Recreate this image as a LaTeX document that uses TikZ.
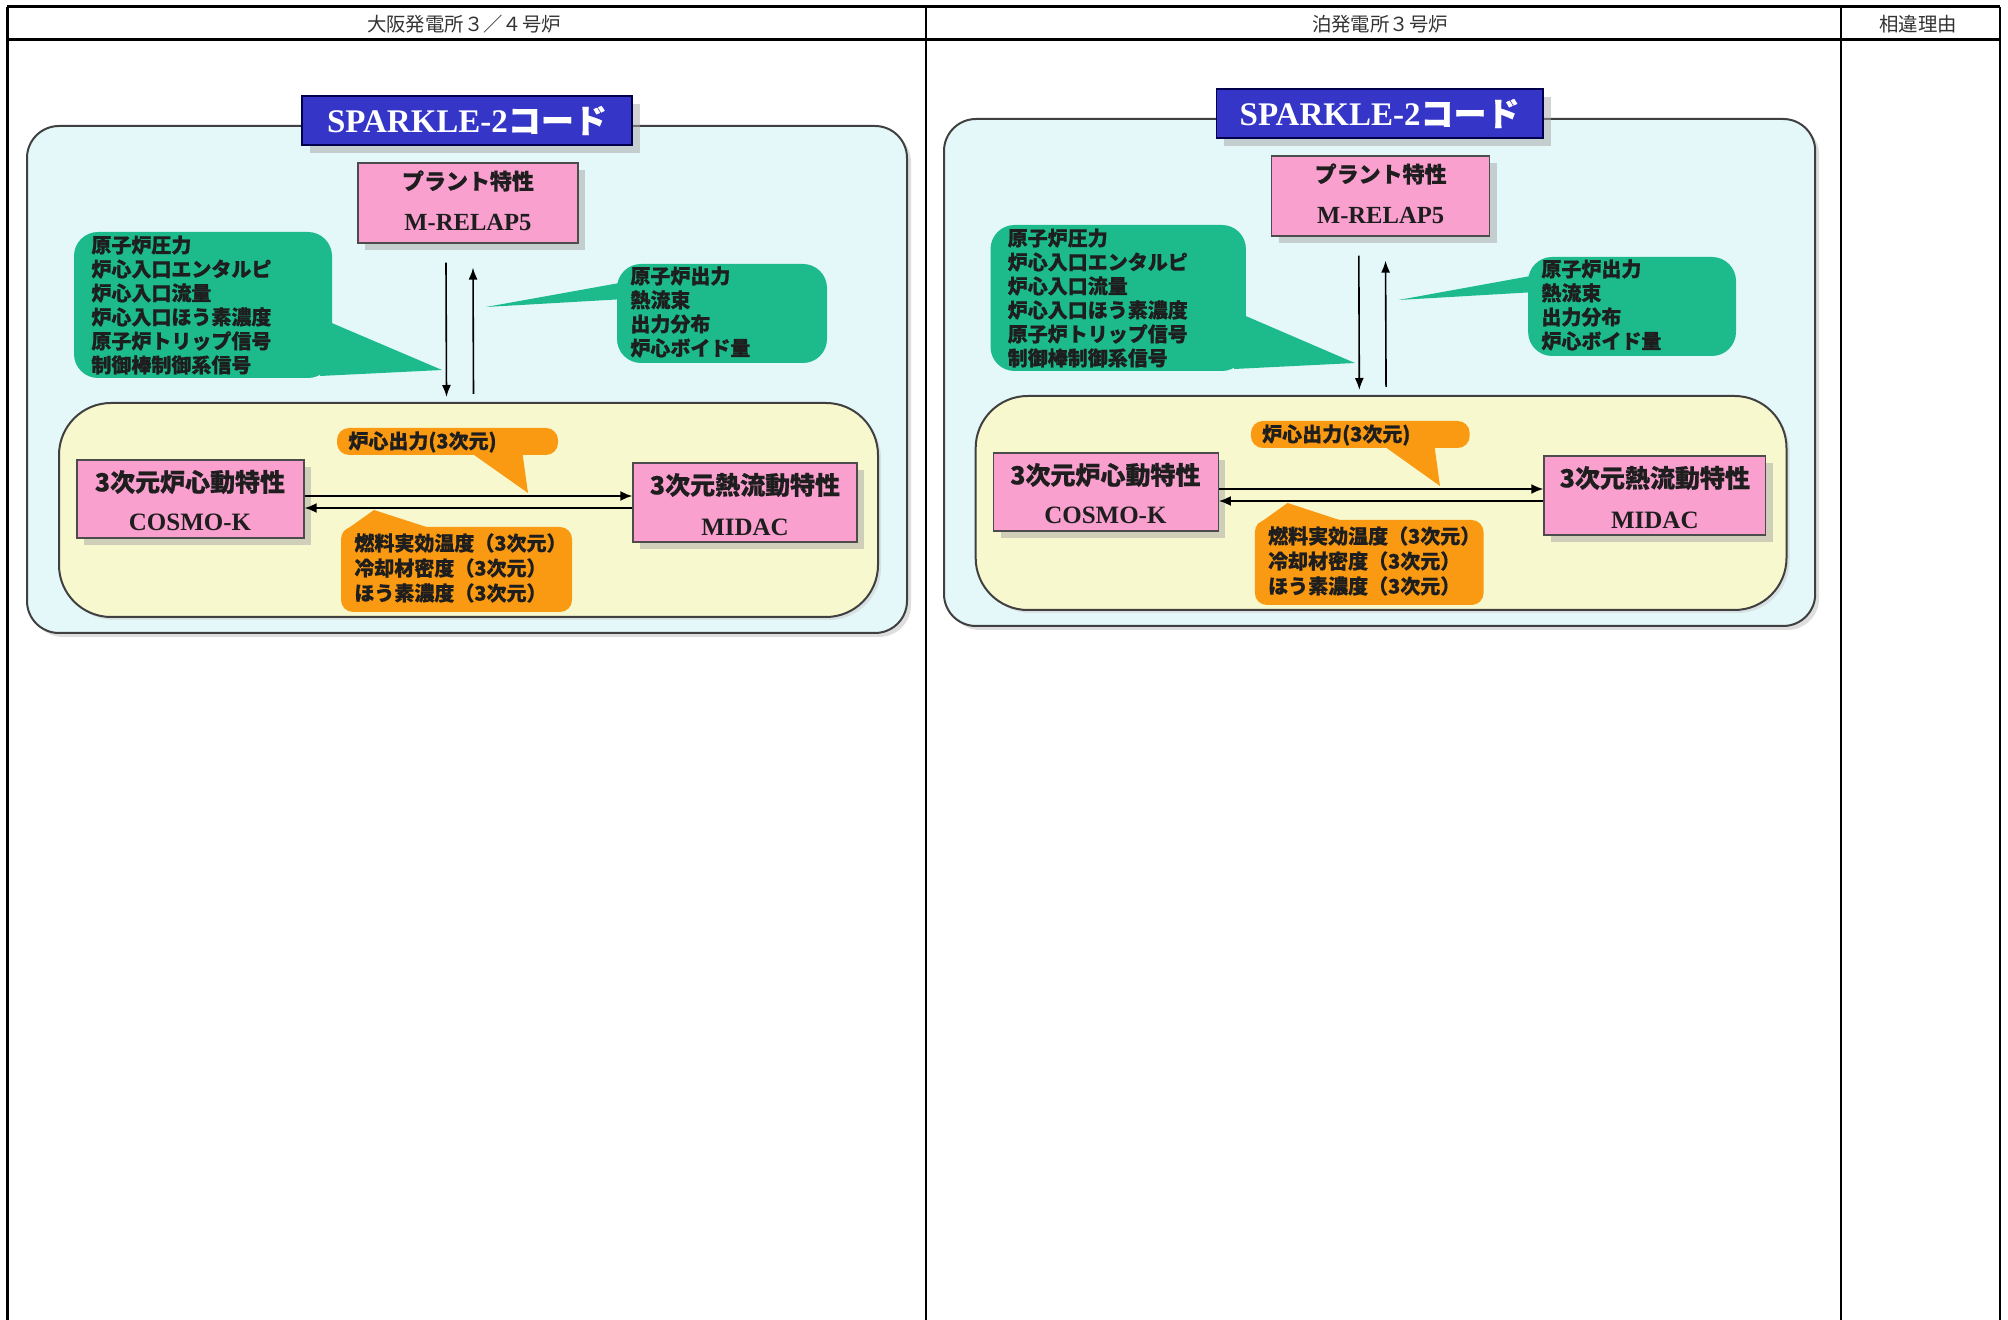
\documentclass[tikz,border=0pt]{standalone}
\usepackage{fontspec}
\setmainfont{Liberation Serif}
\newfontfamily\jp{Noto Sans CJK JP}[BoldFeatures={FakeBold=0.6}]
\usetikzlibrary{shadows,fit,arrows.meta}
\definecolor{cyanbg}{HTML}{E4F8FA}
\definecolor{yellowbg}{HTML}{F8F8CE}
\definecolor{titleblue}{HTML}{3535C8}
\definecolor{pinkc}{HTML}{F9A0CF}
\definecolor{greenc}{HTML}{1DBB8C}
\definecolor{orangec}{HTML}{FA9A12}
\definecolor{txt}{HTML}{1E1E1E}
\tikzset{
  panel/.style={draw=black!75, line width=1pt, fill=cyanbg, rounded corners=16pt, inner sep=0pt,
    drop shadow={shadow xshift=2pt, shadow yshift=-2pt, fill=black!25}},
  titlebox/.style={draw=blue!30!black, line width=0.6pt, fill=titleblue, inner sep=0pt,
    drop shadow={shadow xshift=4pt, shadow yshift=-4pt, fill=black!35}},
  pinkbox/.style={draw=black!70, line width=0.6pt, fill=pinkc, inner sep=0pt,
    drop shadow={shadow xshift=3.5pt, shadow yshift=-3.5pt, fill=black!35}},
  corebox/.style={draw=black!75, line width=1pt, fill=yellowbg, rounded corners=26pt, inner sep=0pt,
    drop shadow={shadow xshift=1.5pt, shadow yshift=-1.5pt, fill=black!20}},
  greencall/.style={fill=greenc, rounded corners=12pt, inner sep=0pt},
  orangecall/.style={fill=orangec, rounded corners=6pt, inner sep=0pt},
  arr/.style={-{Latex[length=6pt,width=4.5pt]}, line width=0.8pt, black},
  harr/.style={-{Latex[length=6pt,width=5pt]}, line width=1pt, black},
  titletext/.style={text=white, font=\bfseries\fontsize{16.5}{18}\selectfont, inner sep=0pt},
  jpbig/.style={text=txt, font=\jp\bfseries\fontsize{11}{13}\selectfont, inner sep=0pt},
  sername/.style={text=txt, font=\bfseries\fontsize{12.3}{14}\selectfont, inner sep=0pt},
  coretitle/.style={text=txt, font=\jp\bfseries\fontsize{12.5}{14}\selectfont, inner sep=0pt},
  corename/.style={text=txt, font=\bfseries\fontsize{12.5}{14}\selectfont, inner sep=0pt},
  gtext/.style={text=txt, font=\jp\bfseries\fontsize{10}{12}\selectfont, align=left, anchor=west, inner sep=0pt},
  otext/.style={text=txt, font=\jp\bfseries\fontsize{10}{12.5}\selectfont, align=left, anchor=west, inner sep=0pt},
  hdr/.style={text=black!80, font=\jp\fontsize{9.7}{11}\selectfont, inner sep=0pt},
  thick rule/.style={line width=1.5pt, black},
  thin rule/.style={line width=0.6pt, black},
}
\newcommand{\sparkdiagram}[1]{%
  \node[panel, fit={(27,126) (907,633)}] (#1out) {};
  \node[titlebox, fit={(302,96) (632,145)}] (#1sp) {};
  \node[titletext] (#1spt) at (#1sp.center) {SPARKLE-2{\jp\bfseries コード}};
  \node[pinkbox, fit={(358,163) (578,243)}] (#1pr) {};
  \node[jpbig] (#1prt) at (468,181) {プラント特性};
  \node[sername] (#1prn) at (468,223) {M-RELAP5};
  % left green callout
  \coordinate (#1lgtip) at (442,370);
  \fill[greenc] (320,318) -- (#1lgtip) -- (320,376) -- cycle;
  \node[greencall, fit={(74,232) (332,378)}] (#1lg) {};
  \node[gtext] (#1lgt) at (91,305) {原子炉圧力\\炉心入口エンタルピ\\炉心入口流量\\炉心入口ほう素濃度\\原子炉トリップ信号\\制御棒制御系信号};
  % right green callout
  \coordinate (#1rgtip) at (486,307);
  \fill[greenc] (625,282) -- (#1rgtip) -- (625,299) -- cycle;
  \node[greencall, fit={(617,264) (827,363)}] (#1rg) {};
  \node[gtext] (#1rgt) at (630,312) {原子炉出力\\熱流束\\出力分布\\炉心ボイド量};
  % core box
  \node[corebox, fit={(59,403) (878,617)}] (#1core) {};
  % vertical arrows
  \draw[arr] ([xshift=-11pt,yshift=-9.5pt]#1pr.south) -- ([xshift=-11pt,yshift=2.5pt]#1core.north);
  \draw[arr] ([xshift=2.5pt,yshift=4pt]#1core.north) -- ([xshift=2.5pt,yshift=-12pt]#1pr.south);
  % inner boxes
  \node[pinkbox, fit={(77,460) (304,538)}] (#1cosmo) {};
  \node[coretitle] (#1cosmot) at (190,482) {3次元炉心動特性};
  \node[corename] (#1cosmon) at (190,522) {COSMO-K};
  \node[pinkbox, fit={(633,463) (857,542)}] (#1midac) {};
  \node[coretitle] (#1midact) at (745,485) {3次元熱流動特性};
  \node[corename] (#1midacn) at (745,527) {MIDAC};
  % orange callouts
  \coordinate (#1otip) at (528,493);
  \fill[orangec] (467,450) -- (#1otip) -- (522,450) -- cycle;
  \node[orangecall, fit={(337,428) (558,455)}] (#1oc) {};
  \node[otext] (#1oct) at (348,442) {炉心出力(3次元)};
  \coordinate (#1btip) at (374,510);
  \fill[orangec] (343,532) -- (#1btip) -- (442,532) -- cycle;
  \node[orangecall, fit={(341,527) (572,612)}] (#1ob) {};
  \node[otext] (#1obt) at (354,568) {燃料実効温度（3次元）\\冷却材密度（3次元）\\ほう素濃度（3次元）};
  % horizontal arrows
  \coordinate (#1ry) at (0,496);
  \coordinate (#1ly) at (0,508);
  \draw[harr] (#1cosmo.east |- #1ry) -- (#1midac.west |- #1ry);
  \draw[harr] (#1midac.west |- #1ly) -- (#1cosmo.east |- #1ly);
}
\begin{document}
\begin{tikzpicture}[x=0.5pt,y=-0.5pt]
\useasboundingbox (0,0) rectangle (2008,1320);
\fill[white] (0,0) rectangle (2008,1320);
% table
\draw[thick rule] (7,7) -- (2000,7);
\draw[thick rule] (7,40) -- (2000,40);
\draw[thick rule] (7,7) -- (7,1320);
\draw[thin rule] (926,7) -- (926,1320);
\draw[line width=1pt] (1841,7) -- (1841,1320);
\draw[line width=1.2pt] (2000,7) -- (2000,1320);
\node[hdr] (h1) at (464,24) {大阪発電所３／４号炉};
\node[hdr] (h2) at (1380,24) {泊発電所３号炉};
\node[hdr] (h3) at (1918,24) {相違理由};
\sparkdiagram{L}
\begin{scope}[shift={(917.27,-7)},xscale=0.99]
\sparkdiagram{R}
\end{scope}
\end{tikzpicture}
\end{document}
